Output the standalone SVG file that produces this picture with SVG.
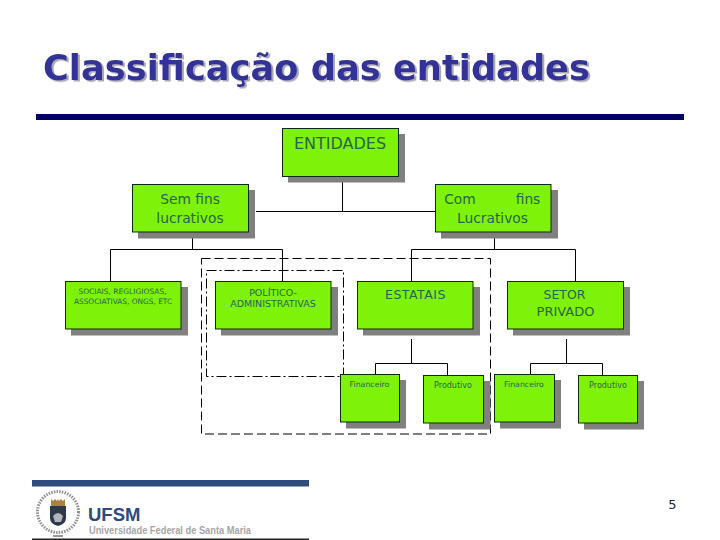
<svg xmlns="http://www.w3.org/2000/svg" width="720" height="540" viewBox="0 0 720 540">
<defs><filter id="ts" x="-5%" y="-20%" width="110%" height="140%"><feDropShadow dx="2" dy="1.500" stdDeviation="0.400" flood-color="#a8a8b4"/></filter></defs>
<style>
text{font-family:"DejaVu Sans",Verdana,sans-serif}
.t{font-weight:700;font-size:35.500px}
.n rect.s{fill:#808080}
.n rect.b{fill:#7ff20a;stroke:#0c2a10;stroke-width:1}
.n text{fill:#25664a;text-anchor:middle}
.c path{fill:none;stroke:#000;stroke-width:1}
.d{fill:none;stroke:#000;stroke-width:1}
.l{font-family:"Liberation Sans",Arial,sans-serif;font-weight:700}
</style>
<rect width="720" height="540" fill="#fff"/>
<text class="t" x="43" y="79.500" fill="#333399" textLength="547" lengthAdjust="spacingAndGlyphs" filter="url(#ts)">Classificação das entidades</text>
<rect x="36" y="114" width="648" height="6" fill="#000066"/>
<g id="connectors" class="c">
<path d="M342.500 176V211.500M256 211.500H493.500V184"/>
<path d="M192.500 232V249.500M110.500 281V249.500H282.500V281"/>
<path d="M494.500 235V249.500M411.500 281V249.500H575.500V281"/>
<path d="M411.500 339V363.500M375.500 374V363.500H447.500V375"/>
<path d="M566.500 339V363.500M530.500 374V363.500H602.500V375"/>
</g>
<g id="groups">
<rect class="d" x="201.500" y="258.500" width="289" height="175.500" stroke-dasharray="9 4"/>
<rect class="d" x="206.500" y="270.500" width="137" height="106" stroke-dasharray="10 3 2 3"/>
</g>
<g id="n-entidades" class="n"><rect class="s" x="288" y="134" width="117" height="48.500"/><rect class="b" x="282.500" y="128.500" width="116" height="48"/><text x="340" y="149" font-size="16">ENTIDADES</text></g>
<g id="n-sem" class="n"><rect class="s" x="138" y="190" width="117" height="48.500"/><rect class="b" x="132.500" y="184.500" width="116" height="47.500"/><text x="190" y="203.500" font-size="13.800">Sem fins</text><text x="190" y="222.500" font-size="13.800">lucrativos</text></g>
<g id="n-com" class="n"><rect class="s" x="441" y="190" width="117" height="48.500"/><rect class="b" x="435.500" y="184.500" width="115.500" height="47.500"/><text x="460" y="203.500" font-size="13.800">Com</text><text x="528" y="203.500" font-size="13.800">fins</text><text x="492.500" y="222.500" font-size="13.800">Lucrativos</text></g>
<g id="n-sociais" class="n"><rect class="s" x="71" y="287" width="117" height="48.500"/><rect class="b" x="65.500" y="281.500" width="115.500" height="47.500"/><text x="122.500" y="294" font-size="7.500">SOCIAIS, REGLIGIOSAS,</text><text x="123" y="303.500" font-size="7.400">ASSOCIATIVAS, ONGS, ETC</text></g>
<g id="n-politico" class="n"><rect class="s" x="221" y="287" width="117" height="48.500"/><rect class="b" x="215.500" y="281.500" width="115.500" height="47.500"/><text x="273" y="296" font-size="9.500">POLÍTICO-</text><text x="273" y="307" font-size="9.500">ADMINISTRATIVAS</text></g>
<g id="n-estatais" class="n"><rect class="s" x="363" y="287" width="117" height="48.500"/><rect class="b" x="357.500" y="281.500" width="115.500" height="47.500"/><text x="415.500" y="299" font-size="12.500" letter-spacing=".5">ESTATAIS</text></g>
<g id="n-setor" class="n"><rect class="s" x="513" y="287" width="117" height="48.500"/><rect class="b" x="507.500" y="281.500" width="116" height="47.500"/><text x="564.500" y="299" font-size="12.500">SETOR</text><text x="565.500" y="316" font-size="13">PRIVADO</text></g>
<g id="n-fin1" class="n"><rect class="s" x="346" y="380" width="60" height="48.500"/><rect class="b" x="340.500" y="374.500" width="59" height="47.500"/><text x="369.500" y="387" font-size="7.800">Financeiro</text></g>
<g id="n-prod1" class="n"><rect class="s" x="429" y="381" width="61.500" height="48.500"/><rect class="b" x="423.500" y="375.500" width="60" height="47.500"/><text x="453" y="388" font-size="8">Produtivo</text></g>
<g id="n-fin2" class="n"><rect class="s" x="500" y="380" width="61" height="48.500"/><rect class="b" x="494.500" y="374.500" width="60" height="47.500"/><text x="524" y="387" font-size="7.800">Financeiro</text></g>
<g id="n-prod2" class="n"><rect class="s" x="584" y="381" width="60" height="48.500"/><rect class="b" x="578.500" y="375.500" width="59" height="47.500"/><text x="608" y="388" font-size="8">Produtivo</text></g>
<rect x="32" y="480" width="277" height="6.500" fill="#2f4a7c"/>
<rect x="32" y="538.500" width="277" height="1.500" fill="#222"/>
<g id="crest">
<circle cx="58" cy="512" r="20.500" fill="none" stroke="#8f8f8f" stroke-width="3" stroke-dasharray="1.500 1.200"/>
<path d="M51 499l2 2 2-2 2 2 1-2 1 2 2-2 2 2 2-2v7H51z" fill="#a8843c"/>
<path d="M50 506h16v12q0 6-8 8-8-2-8-8z" fill="#2c3a4c"/>
<path d="M53 516q5-6 10 0l-2 6h-6z" fill="#b0b6bc"/>
<rect x="53" y="535" width="10" height="2" fill="#999"/>
</g>
<text class="l" x="88" y="521" font-size="18.500" fill="#2f4a7c">UFSM</text>
<text class="l" x="89" y="534" font-size="10.500" fill="#a6a6a6" textLength="162" lengthAdjust="spacingAndGlyphs">Universidade Federal de Santa Maria</text>
<text x="672.500" y="509" font-size="13" fill="#222" text-anchor="middle">5</text>
</svg>
